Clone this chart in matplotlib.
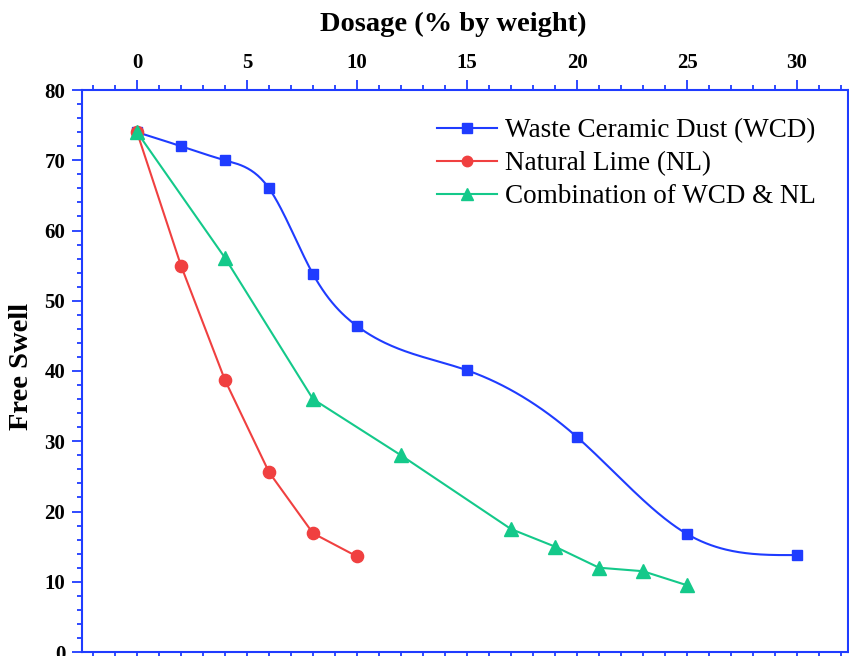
import numpy as np
import matplotlib
matplotlib.use("Agg")
import matplotlib.pyplot as plt
from matplotlib.ticker import MultipleLocator

# Data
wcd_x = [0, 2, 4, 6, 8, 10, 15, 20, 25, 30]
wcd_y = [74.0, 72.0, 70.0, 66.0, 53.8, 46.4, 40.1, 30.6, 16.8, 13.8]
nl_x = [0, 2, 4, 6, 8, 10]
nl_y = [74.0, 55.0, 38.7, 25.6, 16.9, 13.6]
comb_x = [0, 4, 8, 12, 17, 19, 21, 23, 25]
comb_y = [74.0, 56.1, 36.0, 28.0, 17.5, 15.0, 12.0, 11.5, 9.5]
x_ticks = [0, 5, 10, 15, 20, 25, 30]
y_ticks = [0, 10, 20, 30, 40, 50, 60, 70, 80]
labels = ["Waste Ceramic Dust (WCD)", "Natural Lime (NL)", "Combination of WCD & NL"]


def natural_spline(x, y, xs):
    x = np.asarray(x, float)
    y = np.asarray(y, float)
    n = len(x)
    h = np.diff(x)
    A = np.zeros((n, n))
    r = np.zeros(n)
    A[0, 0] = 1
    A[-1, -1] = 1
    for i in range(1, n - 1):
        A[i, i - 1] = h[i - 1]
        A[i, i] = 2 * (h[i - 1] + h[i])
        A[i, i + 1] = h[i]
        r[i] = 6 * ((y[i + 1] - y[i]) / h[i] - (y[i] - y[i - 1]) / h[i - 1])
    M = np.linalg.solve(A, r)
    idx = np.clip(np.searchsorted(x, xs) - 1, 0, n - 2)
    x0, x1 = x[idx], x[idx + 1]
    hh = x1 - x0
    return (M[idx] * (x1 - xs) ** 3 / (6 * hh) + M[idx + 1] * (xs - x0) ** 3 / (6 * hh)
            + (y[idx] / hh - M[idx] * hh / 6) * (x1 - xs)
            + (y[idx + 1] / hh - M[idx + 1] * hh / 6) * (xs - x0))


BLUE = "#1f3cff"
RED = "#f04040"
GREEN = "#14c98a"
LW = 1.5

plt.rcParams["font.family"] = ["Liberation Serif", "DejaVu Serif"]

fig = plt.figure(figsize=(8.49, 6.56), dpi=100)
W, H = 849, 656
left_px, right_px, top_px, bot_px = 82, 847.6, 90, 652
ax = fig.add_axes([left_px / W, (H - bot_px) / H, (right_px - left_px) / W, (bot_px - top_px) / H])

xs = np.linspace(0, 30, 400)
ax.plot(xs, natural_spline(wcd_x, wcd_y, xs), color=BLUE, lw=LW, zorder=3)
ax.plot(wcd_x, wcd_y, ls="none", marker="s", ms=7.8, color=BLUE, zorder=4)
ax.plot(nl_x, nl_y, color=RED, lw=LW, marker="o", ms=8.8, zorder=4)
ax.plot(comb_x, comb_y, color=GREEN, lw=LW, marker="^", ms=10.5, zorder=5)

# legend proxies
h1, = ax.plot([], [], color=BLUE, lw=LW, marker="s", ms=6.8)
h2, = ax.plot([], [], color=RED, lw=LW, marker="o", ms=7.5)
h3, = ax.plot([], [], color=GREEN, lw=LW, marker="^", ms=8.5)
ax.legend([h1, h2, h3], labels,
          loc="upper left", bbox_to_anchor=(0.4637, 0.950), frameon=False, fontsize=19.5,
          handlelength=2.2, handletextpad=0.3, labelspacing=0.3, borderaxespad=0,
          borderpad=0)

ax.set_xlim(-2.5, 32.3)
ax.set_ylim(0, 80)
ax.set_xticks(x_ticks)
ax.set_yticks(y_ticks)
ax.xaxis.set_minor_locator(MultipleLocator(1))
ax.yaxis.set_minor_locator(MultipleLocator(2))

for s in ax.spines.values():
    s.set_color(BLUE)
    s.set_linewidth(1.5)

ax.tick_params(axis="x", which="both", top=True, bottom=True, labeltop=True, labelbottom=False,
               direction="out", color=BLUE, width=1.3)
ax.tick_params(axis="y", which="both", left=True, right=False, direction="out", color=BLUE, width=1.3)
ax.tick_params(which="major", length=7, labelsize=15, pad=5)
ax.tick_params(which="minor", length=3.6)
for lab in ax.get_xticklabels() + ax.get_yticklabels():
    lab.set_fontweight("bold")

fig.text(453 / W, 1 - 24 / H, "Dosage (% by weight)", fontsize=20.5, fontweight="bold",
         ha="center", va="center")
fig.text(22 / W, 1 - 366 / H, "Free Swell", fontsize=20.5, fontweight="bold",
         ha="center", va="center", rotation=90)

fig.savefig("out.png", dpi=100)
